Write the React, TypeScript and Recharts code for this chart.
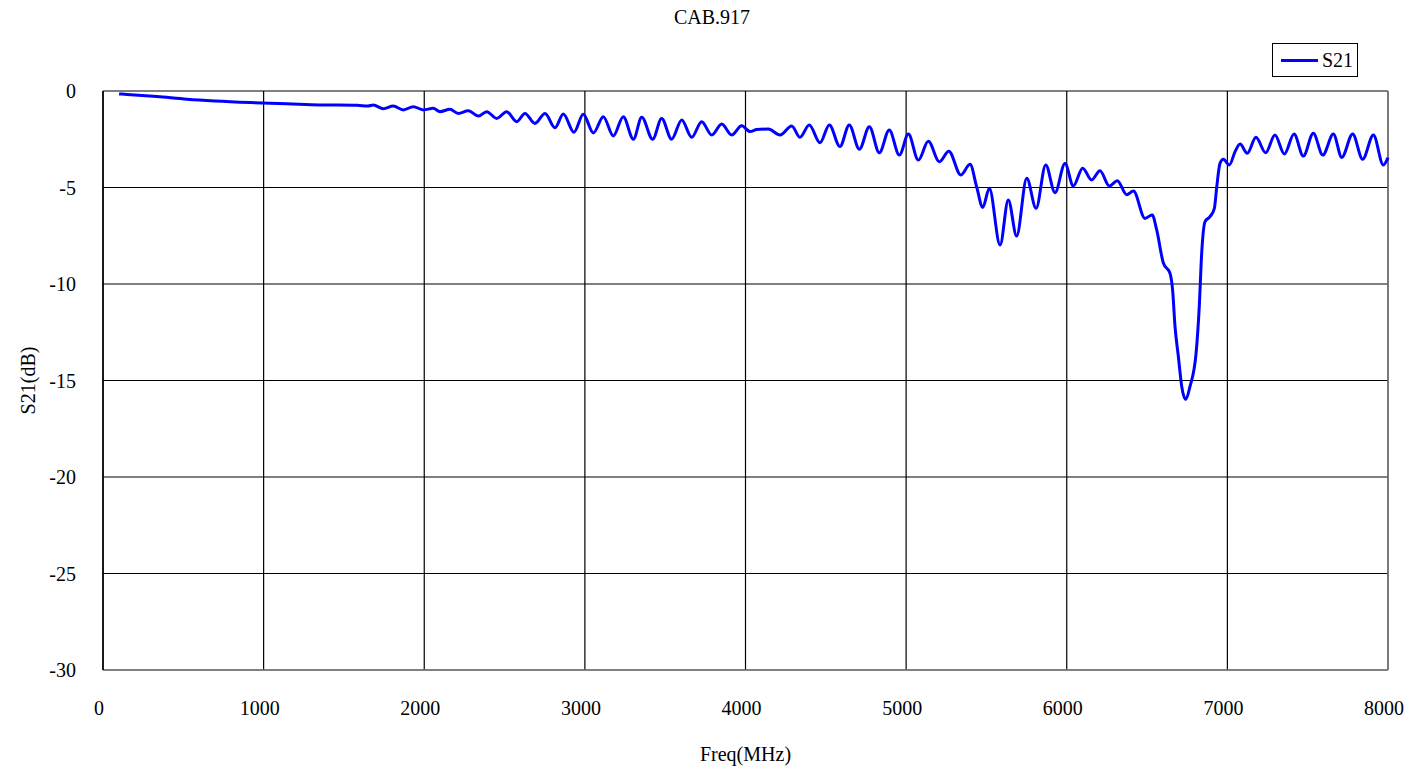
import React from "react";
import {
  LineChart,
  Line,
  XAxis,
  YAxis,
  CartesianGrid,
  ReferenceLine,
} from "recharts";

const TITLE = "CAB.917";
const SERIES_NAME = "S21";
const X_LABEL = "Freq(MHz)";
const Y_LABEL = "S21(dB)";

const xTicks = [0, 1000, 2000, 3000, 4000, 5000, 6000, 7000, 8000];
const yTicks = [0, -5, -10, -15, -20, -25, -30];

const freqMHz = [
  100, 150, 336, 523, 697, 915, 1145, 1351, 1581, 1650,
  1683, 1745, 1807, 1870, 1932, 1994, 2056, 2098, 2160, 2212,
  2274, 2337, 2389, 2451, 2513, 2576, 2627, 2689, 2752, 2814,
  2866, 2932, 2990, 3053, 3115, 3177, 3239, 3302, 3354, 3422,
  3478, 3540, 3603, 3665, 3727, 3790, 3852, 3914, 3976, 4028,
  4070, 4142, 4215, 4288, 4339, 4397, 4464, 4522, 4588, 4646,
  4709, 4771, 4833, 4895, 4958, 5014, 5076, 5138, 5207, 5266,
  5340, 5398, 5439, 5477, 5518, 5585, 5636, 5688, 5751, 5809,
  5869, 5927, 5989, 6041, 6099, 6155, 6207, 6265, 6315, 6373,
  6415, 6487, 6532, 6560, 6601, 6643, 6659, 6674, 6695, 6716,
  6741, 6767, 6805, 6825, 6840, 6861, 6892, 6919, 6934, 6954,
  6975, 7012, 7048, 7079, 7124, 7178, 7238, 7296, 7355, 7415,
  7473, 7535, 7594, 7660, 7712, 7780, 7842, 7909, 7971, 8000,
];

const s21dB = [
  -0.15, -0.18, -0.29, -0.43, -0.52, -0.6, -0.66, -0.72, -0.74, -0.78,
  -0.73, -0.92, -0.78, -0.98, -0.81, -0.98, -0.9, -1.07, -0.95, -1.16,
  -1.02, -1.3, -1.07, -1.42, -1.07, -1.59, -1.16, -1.68, -1.16, -1.9,
  -1.19, -2.14, -1.21, -2.17, -1.33, -2.33, -1.33, -2.5, -1.36, -2.5,
  -1.42, -2.5, -1.5, -2.4, -1.59, -2.28, -1.71, -2.28, -1.8, -2.1,
  -2.0, -1.97, -2.28, -1.81, -2.4, -1.76, -2.68, -1.76, -2.88, -1.76,
  -3.02, -1.85, -3.2, -2.02, -3.32, -2.23, -3.58, -2.6, -3.66, -3.12,
  -4.35, -3.8, -4.96, -6.03, -5.04, -7.98, -5.65, -7.51, -4.52, -6.08,
  -3.83, -5.27, -3.75, -4.92, -4.0, -4.61, -4.13, -4.92, -4.65, -5.37,
  -5.18, -6.6, -6.42, -7.2, -8.9, -9.45, -10.31, -12.2, -13.77, -15.32,
  -15.98, -15.32, -13.6, -11.17, -8.41, -6.77, -6.51, -6.08, -4.96, -3.75,
  -3.54, -3.83, -3.14, -2.75, -3.23, -2.4, -3.2, -2.28, -3.26, -2.23,
  -3.37, -2.19, -3.32, -2.23, -3.44, -2.23, -3.54, -2.28, -3.83, -3.45,
];

const data = freqMHz.map((f, i) => ({ f, s21: s21dB[i] }));

const FONT = "'Liberation Serif', 'Times New Roman', serif";
const tickStyle = { fill: "#000", fontSize: 20, fontFamily: FONT };

export default function App() {
  return (
    <div
      style={{
        position: "absolute",
        left: 0,
        top: 0,
        width: 1424,
        height: 766,
        background: "#fff",
        fontFamily: FONT,
      }}
    >
      <LineChart
        width={1424}
        height={766}
        data={data}
        margin={{ top: 91, right: 36, bottom: 0, left: 0 }}
      >
        <CartesianGrid stroke="#000" strokeWidth={1.2} />
        <XAxis
          dataKey="f"
          type="number"
          domain={[0, 8000]}
          ticks={xTicks}
          interval={0}
          height={96}
          tickLine={false}
          tickSize={0}
          tickMargin={31}
          axisLine={{ stroke: "#808080", strokeWidth: 1.5 }}
          tick={{ ...tickStyle, dx: -4 }}
          label={{
            value: X_LABEL,
            position: "insideBottom",
            offset: 5,
            fill: "#000",
            fontSize: 20,
            fontFamily: FONT,
          }}
        />
        <YAxis
          type="number"
          domain={[-30, 0]}
          ticks={yTicks}
          interval={0}
          width={103}
          tickLine={false}
          tickSize={0}
          tickMargin={27}
          axisLine={{ stroke: "#000", strokeWidth: 1.5 }}
          tick={tickStyle}
          label={{
            value: Y_LABEL,
            angle: -90,
            position: "center",
            dx: -24,
            fill: "#000",
            fontSize: 20,
            fontFamily: FONT,
          }}
        />
        <ReferenceLine x={8000} stroke="#808080" strokeWidth={1.5} />
        <Line
          type="monotone"
          dataKey="s21"
          stroke="#0000ff"
          strokeWidth={3}
          dot={false}
          isAnimationActive={false}
        />
      </LineChart>
      <div
        style={{
          position: "absolute",
          left: 0,
          width: 1424,
          top: 6,
          textAlign: "center",
          fontSize: 20,
          color: "#000",
        }}
      >
        {TITLE}
      </div>
      <div
        style={{
          position: "absolute",
          left: 1272,
          top: 43,
          width: 86,
          height: 34,
          border: "1px solid #000",
          display: "flex",
          alignItems: "center",
          background: "#fff",
          boxSizing: "border-box",
        }}
      >
        <div
          style={{
            marginLeft: 8,
            width: 37,
            height: 3,
            background: "#0000ff",
          }}
        />
        <span style={{ marginLeft: 4, fontSize: 20, color: "#000" }}>
          {SERIES_NAME}
        </span>
      </div>
    </div>
  );
}
